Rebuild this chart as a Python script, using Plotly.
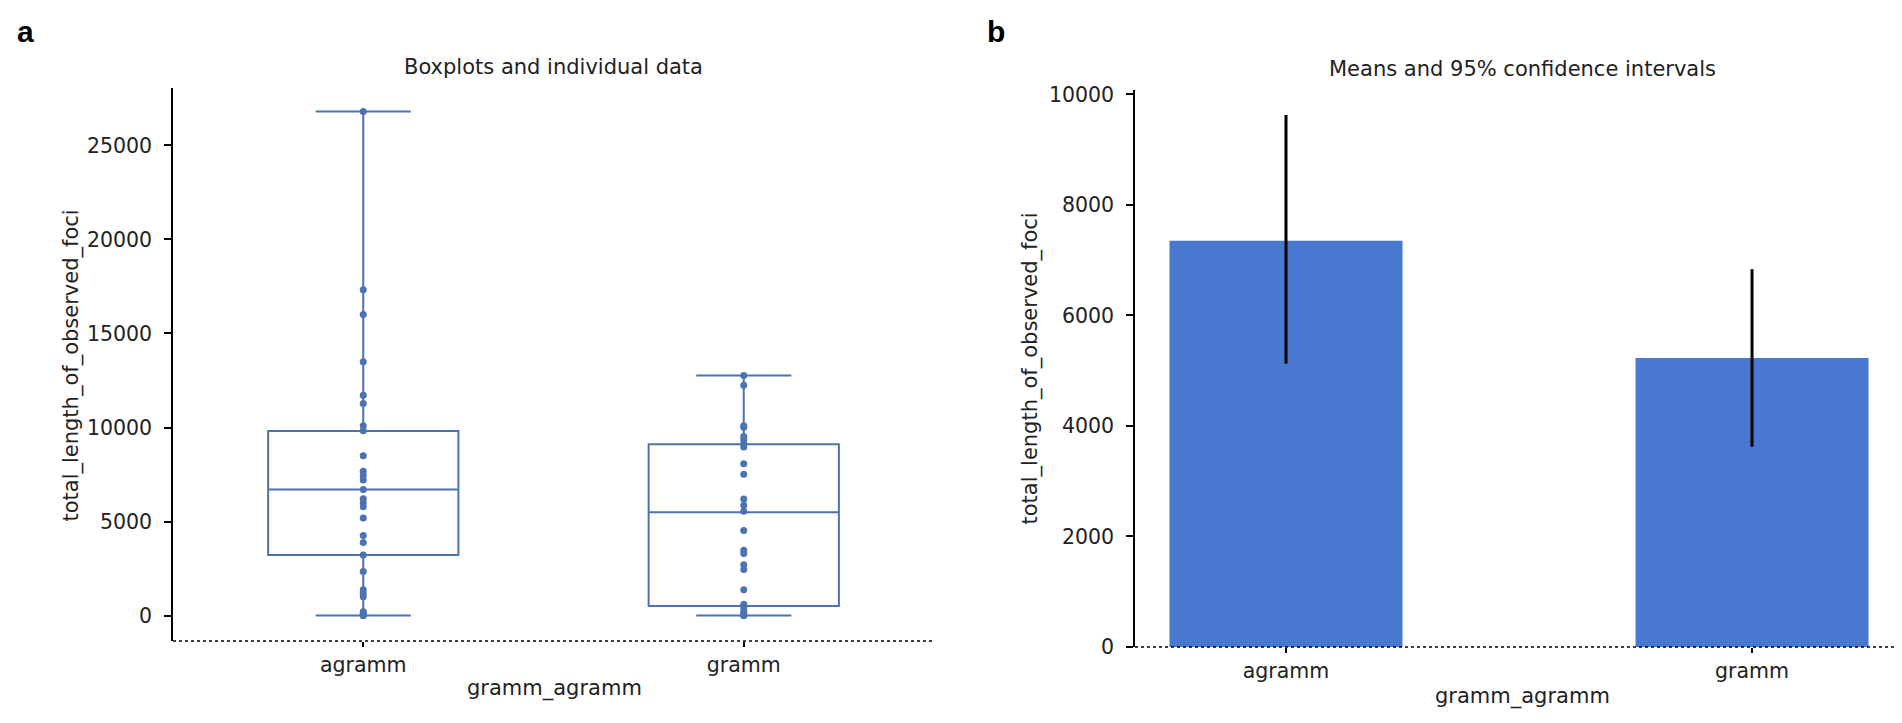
import plotly.graph_objects as go

# ---------------- data ----------------
categories = ["agramm", "gramm"]

agramm_values = [26800, 17320, 16010, 13490, 11710, 11280, 10090, 9830, 8500,
                 7680, 7450, 7210, 6710, 6210, 6000, 5780, 5190, 4260, 3880,
                 3220, 2340, 1370, 1180, 1000, 200, 130, 60, 0, 0]
gramm_values = [12770, 12250, 10090, 10010, 9520, 9350, 9140, 8970, 8070, 7520,
                6200, 5870, 5550, 4530, 3480, 3300, 2700, 2445, 1370, 600, 425,
                220, 150, 80, 0, 0]

box_q1 = [3220, 510]
box_median = [6710, 5500]
box_q3 = [9820, 9110]
box_lowerfence = [0, 0]
box_upperfence = [26800, 12770]

bar_means = [7353, 5228]
ci_low = [5128, 3624]
ci_high = [9626, 6837]

left_yticks = [0, 5000, 10000, 15000, 20000, 25000]
right_yticks = [0, 2000, 4000, 6000, 8000, 10000]

# ---------------- styling ----------------
W, H = 1902, 723
BOX_COLOR = "#4C72B0"
BAR_COLOR = "#4878CF"
FONT = "DejaVu Sans"
TICK_SIZE = 20.5


def px(x):
    return x / W


def py(y):
    return 1 - y / H


positions = list(range(len(categories)))

fig = go.Figure()

fig.add_trace(go.Box(
    x=positions, q1=box_q1, median=box_median, q3=box_q3,
    lowerfence=box_lowerfence, upperfence=box_upperfence,
    width=0.5, whiskerwidth=0.5, boxpoints=False,
    line=dict(color=BOX_COLOR, width=2), fillcolor="rgba(0,0,0,0)",
    showlegend=False, hoverinfo="skip", xaxis="x", yaxis="y"))

point_x = [0] * len(agramm_values) + [1] * len(gramm_values)
point_y = agramm_values + gramm_values
fig.add_trace(go.Scatter(
    x=point_x, y=point_y, mode="markers",
    marker=dict(color=BOX_COLOR, size=7, line=dict(width=0)),
    showlegend=False, xaxis="x", yaxis="y"))

fig.add_trace(go.Bar(
    x=positions, y=bar_means, width=0.5,
    marker=dict(color=BAR_COLOR, line=dict(width=0)),
    error_y=dict(type="data", symmetric=False,
                 array=[h - m for h, m in zip(ci_high, bar_means)],
                 arrayminus=[m - l for m, l in zip(bar_means, ci_low)],
                 color="black", thickness=3, width=0),
    showlegend=False, xaxis="x2", yaxis="y2"))

axis_common = dict(showgrid=False, zeroline=False, ticks="outside",
                   tickcolor="black", tickwidth=1.5,
                   tickfont=dict(family=FONT, size=TICK_SIZE, color="#222222"))

fig.update_layout(
    width=W, height=H, margin=dict(l=0, r=0, t=0, b=0),
    paper_bgcolor="white", plot_bgcolor="white",
    xaxis=dict(domain=[px(165), px(926)], range=[-0.5, 1.5], anchor="y",
               tickvals=positions, ticktext=categories, ticklen=5,
               showline=False, **axis_common),
    yaxis=dict(domain=[py(643), py(75)], range=[-1357, 28050], anchor="x",
               tickvals=left_yticks, tickformat="d", ticklen=7,
               ticklabelstandoff=8, showline=True, linecolor="black",
               linewidth=1.5, **axis_common),
    xaxis2=dict(domain=[px(1127), 1.0], range=[-0.324, 1.339], anchor="y2",
                tickvals=positions, ticktext=categories, ticklen=5,
                showline=False, **axis_common),
    yaxis2=dict(domain=[py(649), py(76.7)], range=[0, 10085], anchor="x2",
                tickvals=right_yticks, tickformat="d", ticklen=7,
                ticklabelstandoff=8, showline=True, linecolor="black",
                linewidth=1.5, **axis_common),
    shapes=[
        dict(type="line", xref="paper", yref="paper", x0=px(165), x1=px(926),
             y0=py(643), y1=py(643),
             line=dict(color="black", width=1.5, dash="dot"), layer="above"),
        dict(type="line", xref="paper", yref="paper", x0=px(1127), x1=1.0,
             y0=py(649), y1=py(649),
             line=dict(color="black", width=1.5, dash="dot"), layer="above"),
    ],
)

text_font = dict(family=FONT, size=21, color="#222222")
annotations = [
    dict(text="Boxplots and individual data", x=px(545), y=py(53)),
    dict(text="Means and 95% confidence intervals", x=px(1514), y=py(55)),
    dict(text="gramm_agramm", x=px(546), y=py(692)),
    dict(text="gramm_agramm", x=px(1514), y=py(700)),
    dict(text="total_length_of_observed_foci", x=px(64), y=py(360),
         textangle=-90),
    dict(text="total_length_of_observed_foci", x=px(1022), y=py(363),
         textangle=-90),
]
for a in annotations:
    fig.add_annotation(xref="paper", yref="paper", showarrow=False,
                       xanchor="center", yanchor="middle",
                       font=text_font, **a)

for letter, xx in [("a", 17), ("b", 988)]:
    fig.add_annotation(text="<b>%s</b>" % letter, xref="paper", yref="paper",
                       x=px(xx), y=py(17), showarrow=False,
                       xanchor="center", yanchor="middle",
                       font=dict(family="Liberation Sans", size=30,
                                 color="black"))

fig.write_html("out.html")
